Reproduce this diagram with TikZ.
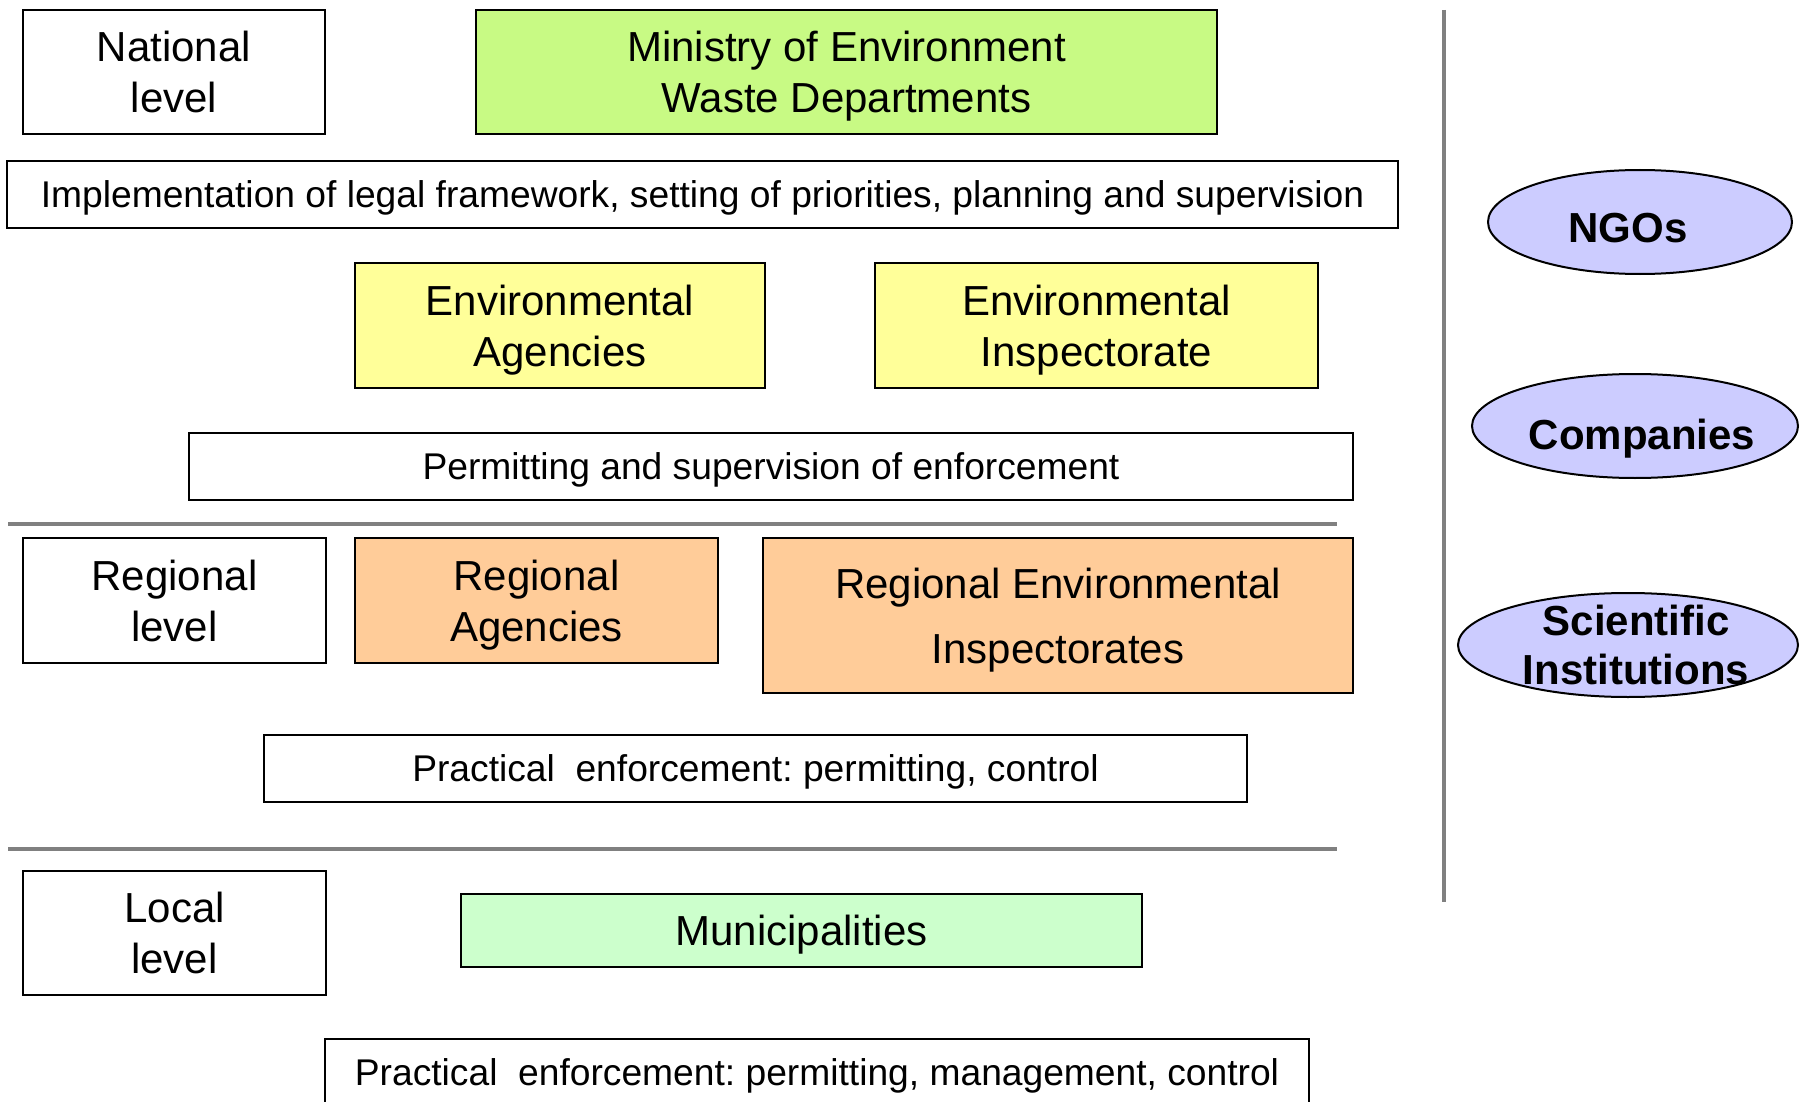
\documentclass[tikz,border=0pt]{standalone}
\usepackage{fontspec}
\setmainfont{Liberation Sans}
\frenchspacing
\usetikzlibrary{shapes.geometric}
\definecolor{minigreen}{RGB}{200,250,132}
\definecolor{agyellow}{RGB}{255,255,153}
\definecolor{regorange}{RGB}{255,204,153}
\definecolor{locgreen}{RGB}{204,255,204}
\definecolor{grpblue}{RGB}{204,204,255}

\begin{document}
\begin{tikzpicture}[x=0.5pt,y=-0.5pt,
    lvlbox/.style={draw,line width=1pt,inner sep=0pt,align=center,text depth=0pt,font=\fontsize{21}{25.5}\selectfont},
    taskbox/.style={draw,line width=1pt,inner sep=0pt,minimum height=33.5pt,text depth=0pt,font=\fontsize{18.6}{22}\selectfont},
    grp/.style={ellipse,draw,line width=1pt,fill=grpblue,inner sep=0pt,minimum height=52pt},
    grptext/.style={inner sep=0pt,align=center,font=\fontsize{21}{24.25}\selectfont\bfseries},
    sep/.style={gray,line width=2.4pt}]
    \useasboundingbox (0,0) rectangle (1801,1102);
    % national level
    \node[lvlbox,minimum width=151pt,minimum height=62pt] (natl) at (174,72) {National\\level};
    \node[lvlbox,fill=minigreen,minimum width=370.5pt,minimum height=62pt] (ministry) at (846.5,72) {Ministry of Environment\\Waste Departments};
    \node[taskbox,minimum width=695.5pt] (impl) at (702.5,194.5) {Implementation of legal framework, setting of priorities, planning and supervision};
    \node[lvlbox,fill=agyellow,minimum width=205pt,minimum height=62.5pt] (envag) at (560,325.5) {Environmental\\Agencies};
    \node[lvlbox,fill=agyellow,minimum width=221.5pt,minimum height=62.5pt] (envinsp) at (1096.5,325.5) {Environmental\\Inspectorate};
    \node[taskbox,minimum width=582pt] (permit) at (771,466.5) {Permitting and supervision of enforcement};
    \draw[sep] (8,524) -- (1337,524);
    % regional level
    \node[lvlbox,minimum width=151.5pt,minimum height=62.5pt] (reglvl) at (174.5,600.5) {Regional\\level};
    \node[lvlbox,fill=regorange,minimum width=181.5pt,minimum height=62.5pt] (regag) at (536.5,600.5) {Regional\\Agencies};
    \node[lvlbox,fill=regorange,minimum width=295pt,minimum height=77.5pt,font=\fontsize{21}{32.5}\selectfont] (reginsp) at (1058,615.5) {Regional Environmental\\Inspectorates};
    \node[taskbox,minimum width=491.5pt] (pract1) at (755.5,768.5) {Practical~~enforcement: permitting, control};
    \draw[sep] (8,849) -- (1337,849);
    % local level
    \node[lvlbox,minimum width=151.5pt,minimum height=62pt] (loclvl) at (174.5,933) {Local\\level};
    \node[lvlbox,fill=locgreen,minimum width=340.5pt,minimum height=36.5pt] (munic) at (801.5,930.5) {Municipalities};
    \node[taskbox,minimum width=492pt] (pract2) at (817,1072) {Practical~~enforcement: permitting, management, control};
    % other actors
    \draw[sep] (1444,10) -- (1444,902);
    \node[grp,minimum width=152pt] (ngo) at (1640,222) {};
    \node[grptext,xshift=-6pt,yshift=-3pt] at (ngo) {NGOs};
    \node[grp,minimum width=163pt] (comp) at (1635,426) {};
    \node[grptext,xshift=3.5pt,yshift=-6.5pt] at (comp) {Companies};
    \node[grp,minimum width=170pt] (sci) at (1628,645) {};
    \node[grptext,xshift=4pt] at (sci) {Scientific\\Institutions};
\end{tikzpicture}
\end{document}
